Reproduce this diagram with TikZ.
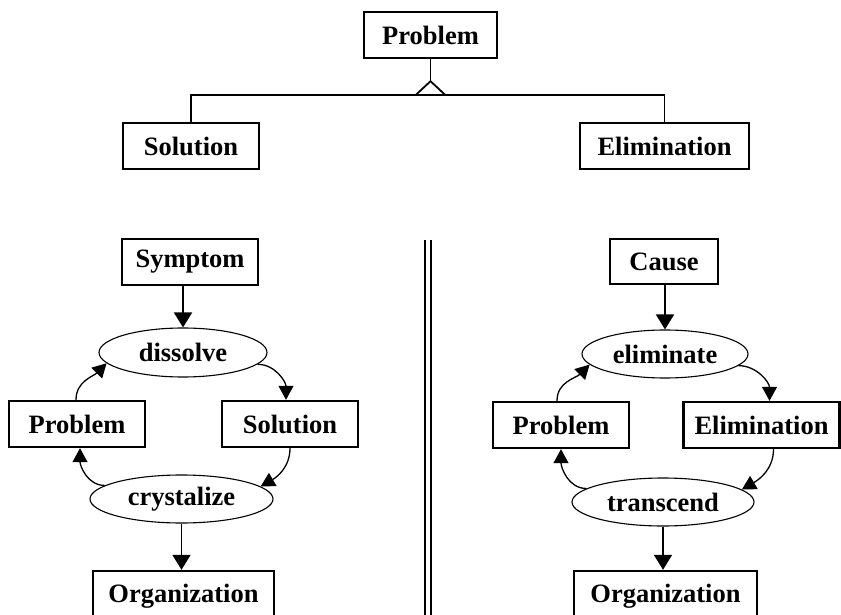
\documentclass[tikz,border=0pt]{standalone}
\usepackage{fontspec}
\setmainfont{Liberation Serif}
\usetikzlibrary{arrows.meta,calc,shapes.geometric}
\begin{document}
\begin{tikzpicture}[x=1pt,y=-1pt,
  every node/.style={font=\fontsize{26.5}{30}\selectfont\bfseries, inner sep=0pt},
  box/.style={draw, line width=2.4pt, minimum height=46pt},
  oval/.style={draw, ellipse, line width=1.1pt},
  link/.style={line width=1.8pt},
  bigarrow/.style={line width=1.8pt, -{Triangle[length=15pt,width=18pt]}},
  smallarrow/.style={line width=1.3pt, -{Triangle[length=14pt,width=15pt]}}]
\useasboundingbox (0,0) rectangle (841,615);

% ---- generalisation: Problem -> Solution / Elimination ----
\node[box, minimum width=133pt] (ptop) at (430.5,35) {Problem};
\node[box, minimum width=136pt] (sol)  at (191,146) {Solution};
\node[box, minimum width=169pt] (elim) at (664.5,146) {Elimination};
\coordinate (apex) at ($(ptop.south)+(0,22)$);
\coordinate (bar)  at ($(apex)+(0,14)$);
\draw[link] (ptop.south) -- (apex);
\draw[link] (apex) -- ++(-15,14);
\draw[link] (apex) -- ++(15,14);
\draw[link] (sol.north) -- (sol.north |- bar) -- (elim.north |- bar) -- (elim.north);

% ---- separator ----
\coordinate (sepT) at (425,240);
\coordinate (sepB) at (425,616);
\draw[link] (sepT) -- (sepB);
\draw[link] ($(sepT)+(6,0)$) -- ($(sepB)+(6,0)$);

% ---- left cycle ----
\node[box, minimum width=136pt] (symp) at (190,262) {Symptom};
\node[oval, minimum width=168pt, minimum height=49pt] (dis) at (183,352.5) {dissolve};
\node[box, minimum width=136pt] (prL)  at (77,424) {Problem};
\node[box, minimum width=136pt] (solL) at (290,424) {Solution};
\node[oval, minimum width=183pt, minimum height=48pt] (cry) at (181.5,499) {crystalize};
\node[box, minimum width=181pt, minimum height=50pt] (orgL) at (183.5,596) {Organization};

\draw[bigarrow] (dis.north |- symp.south) -- (dis.north);
\draw[bigarrow] (cry.south) -- (cry.south |- orgL.north);
\draw[smallarrow] ($(prL.north)+(-1,0)$) to[out=90,in=225] (dis.188);
\draw[smallarrow] (dis.-9) to[out=0,in=90] ($(solL.north)+(-4,0)$);
\draw[smallarrow] (solL.south) to[out=-90,in=30] (cry.9);
\draw[smallarrow] (cry.170) to[out=180,in=-90] ($(prL.south)+(3,0)$);

% ---- right cycle ----
\node[box, minimum width=108pt, minimum height=45pt] (cause) at (664,261.5) {Cause};
\node[oval, minimum width=166pt, minimum height=48pt] (eli) at (665,354) {eliminate};
\node[box, minimum width=136pt] (prR) at (561,425) {Problem};
\node[box, minimum width=156pt] (elR) at (761.5,425) {Elimination};
\node[oval, minimum width=182pt, minimum height=48pt] (tra) at (663,502) {transcend};
\node[box, minimum width=183pt, minimum height=50pt] (orgR) at (665.5,596) {Organization};

\draw[bigarrow] (eli.north |- cause.south) -- (eli.north);
\draw[bigarrow] (tra.south) -- (tra.south |- orgR.north);
\draw[smallarrow] ($(prR.north)+(-4,0)$) to[out=90,in=225] (eli.188);
\draw[smallarrow] (eli.-9) to[out=0,in=90] ($(elR.north)+(8,0)$);
\draw[smallarrow] ($(elR.south)+(12,0)$) to[out=-90,in=30] (tra.9);
\draw[smallarrow] (tra.170) to[out=180,in=-90] (prR.south);
\end{tikzpicture}
\end{document}
